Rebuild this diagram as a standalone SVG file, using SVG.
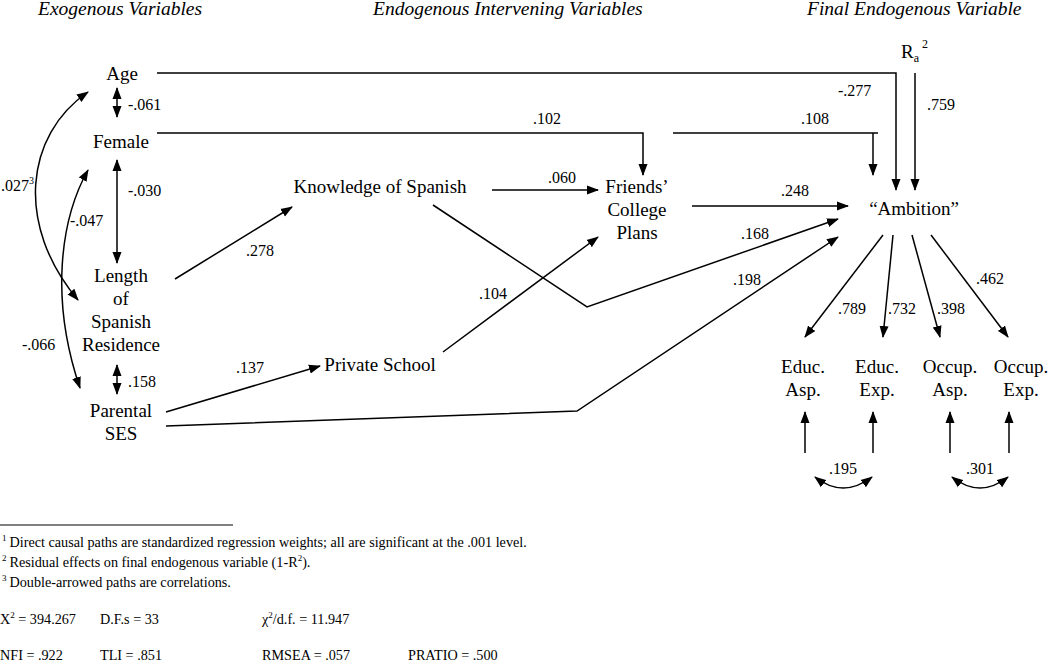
<svg xmlns="http://www.w3.org/2000/svg" width="1050" height="662" viewBox="0 0 1050 662">
<style>
text{font-family:"Liberation Serif","Times New Roman",serif;fill:#000}
.n{font-size:19px;text-anchor:middle}
.h{font-size:19.5px;font-style:italic}
.l{font-size:16px}
.f{font-size:14.2px}
.c path,.c line,.c polyline{fill:none;stroke:#000;stroke-width:1.5}
</style>
<defs>
<marker id="a" markerUnits="userSpaceOnUse" markerWidth="12" markerHeight="10" refX="11" refY="4.5" orient="auto-start-reverse" viewBox="0 0 12 9">
<path d="M0,0 L12,4.5 L0,9 z" fill="#000"/>
</marker>
</defs>
<g id="headers">
<text class="h" x="38" y="15">Exogenous Variables</text>
<text class="h" x="373" y="15">Endogenous Intervening Variables</text>
<text class="h" x="807" y="15">Final Endogenous Variable</text>
</g>
<g id="age"><text class="n" x="122" y="80">Age</text></g>
<g id="female"><text class="n" x="121" y="148">Female</text></g>
<g id="length"><text class="n" x="121" y="282">Length</text><text class="n" x="121" y="305">of</text><text class="n" x="121" y="328">Spanish</text><text class="n" x="121" y="351">Residence</text></g>
<g id="ses"><text class="n" x="121" y="417">Parental</text><text class="n" x="121" y="440">SES</text></g>
<g id="knowledge"><text class="n" x="380" y="193">Knowledge of Spanish</text></g>
<g id="private"><text class="n" x="380" y="371">Private School</text></g>
<g id="friends"><text class="n" x="637" y="193">Friends’</text><text class="n" x="637" y="216">College</text><text class="n" x="637" y="239">Plans</text></g>
<g id="ambition"><text class="n" x="914" y="215">“Ambition”</text></g>
<g id="r2"><text font-size="19" x="901" y="58">R<tspan font-size="12" dy="4">a</tspan><tspan font-size="12" dx="3" dy="-14">2</tspan></text></g>
<g id="educasp"><text class="n" x="803" y="373">Educ.</text><text class="n" x="803" y="396">Asp.</text></g>
<g id="educexp"><text class="n" x="877" y="373">Educ.</text><text class="n" x="877" y="396">Exp.</text></g>
<g id="occasp"><text class="n" x="950" y="373">Occup.</text><text class="n" x="950" y="396">Asp.</text></g>
<g id="occexp"><text class="n" x="1021" y="373">Occup.</text><text class="n" x="1021" y="396">Exp.</text></g>
<g id="connectors" class="c">
<polyline points="157,73 896,73 896,190" marker-end="url(#a)"/>
<line x1="915" y1="73" x2="915" y2="190" marker-end="url(#a)"/>
<polyline points="157,133 643,133 643,175" marker-end="url(#a)"/>
<polyline points="673,133 878,133"/>
<line x1="873" y1="133" x2="873" y2="175" marker-end="url(#a)"/>
<line x1="492" y1="190" x2="598" y2="190" marker-end="url(#a)"/>
<line x1="692" y1="206" x2="848" y2="206" marker-end="url(#a)"/>
<polyline points="433,205 587,307 838,219" marker-end="url(#a)"/>
<polyline points="166,426 577,411 838,237" marker-end="url(#a)"/>
<line x1="166" y1="412" x2="320" y2="366" marker-end="url(#a)"/>
<line x1="443" y1="352" x2="598" y2="237" marker-end="url(#a)"/>
<line x1="175" y1="279" x2="292" y2="207" marker-end="url(#a)"/>
<line x1="117" y1="88" x2="117" y2="117" marker-start="url(#a)" marker-end="url(#a)"/>
<line x1="117" y1="160" x2="117" y2="263" marker-start="url(#a)" marker-end="url(#a)"/>
<line x1="117" y1="365" x2="117" y2="394" marker-start="url(#a)" marker-end="url(#a)"/>
<path d="M88,92 C25,135 15,225 78,300" marker-start="url(#a)" marker-end="url(#a)"/>
<path d="M88,170 C60,220 50,300 80,388" marker-start="url(#a)" marker-end="url(#a)"/>
<line x1="883" y1="235" x2="805" y2="337" marker-end="url(#a)"/>
<line x1="893" y1="235" x2="883" y2="337" marker-end="url(#a)"/>
<line x1="912" y1="235" x2="940" y2="337" marker-end="url(#a)"/>
<line x1="931" y1="235" x2="1008" y2="337" marker-end="url(#a)"/>
<line x1="805" y1="453" x2="805" y2="412" marker-end="url(#a)"/>
<line x1="873" y1="453" x2="873" y2="412" marker-end="url(#a)"/>
<line x1="950" y1="453" x2="950" y2="412" marker-end="url(#a)"/>
<line x1="1009" y1="453" x2="1009" y2="412" marker-end="url(#a)"/>
<path d="M815,477 Q843,499 872,477" marker-start="url(#a)" marker-end="url(#a)"/>
<path d="M952,477 Q980,499 1008,477" marker-start="url(#a)" marker-end="url(#a)"/>
</g>
<g id="labels" class="l">
<text x="128" y="110">-.061</text>
<text x="128" y="196">-.030</text>
<text x="128" y="387">.158</text>
<text x="1" y="191">.027<tspan font-size="10" dy="-7">3</tspan></text>
<text x="70" y="226">-.047</text>
<text x="22" y="350">-.066</text>
<text x="246" y="256">.278</text>
<text x="236" y="373">.137</text>
<text x="479" y="299">.104</text>
<text x="548" y="183">.060</text>
<text x="533" y="124">.102</text>
<text x="801" y="124">.108</text>
<text x="838" y="96">-.277</text>
<text x="927" y="110">.759</text>
<text x="781" y="196">.248</text>
<text x="741" y="239">.168</text>
<text x="733" y="285">.198</text>
<text x="838" y="314">.789</text>
<text x="888" y="314">.732</text>
<text x="937" y="314">.398</text>
<text x="976" y="284">.462</text>
<text x="829" y="474">.195</text>
<text x="966" y="474">.301</text>
</g>
<g id="footnotes" class="f">
<line x1="0" y1="525" x2="233" y2="525" stroke="#000" stroke-width="1"/>
<text x="2" y="547"><tspan font-size="9" dy="-6">1</tspan><tspan dx="3" dy="6">Direct causal paths are standardized regression weights; all are significant at the .001 level.</tspan></text>
<text x="2" y="567"><tspan font-size="9" dy="-6">2</tspan><tspan dx="3" dy="6">Residual effects on final endogenous variable (1-R</tspan><tspan font-size="9" dy="-6">2</tspan><tspan dy="6">).</tspan></text>
<text x="2" y="587"><tspan font-size="9" dy="-6">3</tspan><tspan dx="3" dy="6">Double-arrowed paths are correlations.</tspan></text>
<text x="0" y="624">X<tspan font-size="9" dy="-6">2</tspan><tspan dy="6"> = 394.267</tspan></text>
<text x="100" y="624">D.F.s = 33</text>
<text x="262" y="624">χ<tspan font-size="9" dy="-6">2</tspan><tspan dy="6">/d.f. = 11.947</tspan></text>
<text x="0" y="660">NFI = .922</text>
<text x="100" y="660">TLI = .851</text>
<text x="262" y="660">RMSEA = .057</text>
<text x="408" y="660">PRATIO = .500</text>
</g>
</svg>
